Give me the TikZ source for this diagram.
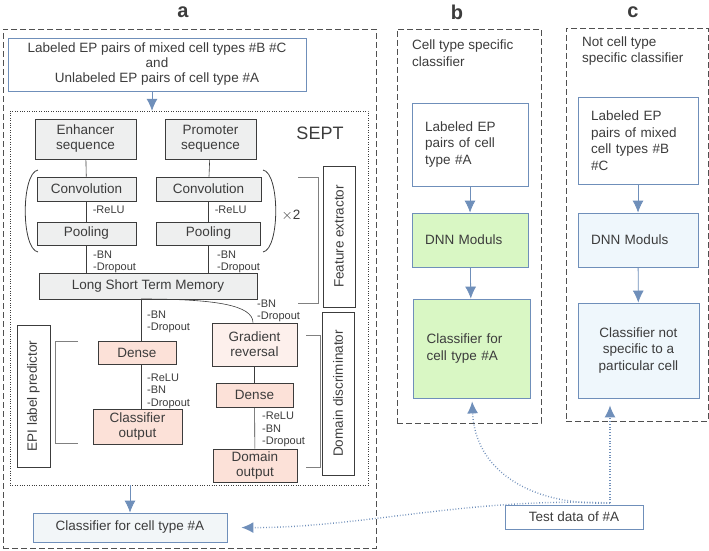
\documentclass[tikz,border=0pt]{standalone}
\usepackage{fontspec}
\setmainfont{Liberation Sans}
\usetikzlibrary{arrows.meta}
\definecolor{epblue}{RGB}{111,143,186}
\definecolor{eptext}{RGB}{60,60,60}
\definecolor{epgrey}{RGB}{238,239,239}
\definecolor{eppink}{RGB}{252,225,216}
\definecolor{eplpink}{RGB}{253,240,236}
\definecolor{epgreen}{RGB}{217,247,196}
\definecolor{eplblue}{RGB}{239,247,252}
\definecolor{epcls}{RGB}{242,246,248}
\begin{document}
\begin{tikzpicture}[x=1pt,y=-1pt,font=\fontsize{13.5}{15}\selectfont,text=eptext]

%
% Styles
%
\tikzstyle{box}    = [draw=eptext,semithick,align=center,inner sep=1pt]
\tikzstyle{gbox}   = [box,fill=epgrey]
\tikzstyle{pbox}   = [box,fill=eppink]
\tikzstyle{bbox}   = [draw=epblue,thick,align=left,inner sep=1pt]
\tikzstyle{panel}  = [draw=eptext!90,semithick,dash pattern=on 6pt off 3pt]
\tikzstyle{lbl}    = [font=\fontsize{11}{12.5}\selectfont,anchor=west,inner sep=0pt]
\tikzstyle{edge}   = [draw=eptext,semithick]
\tikzstyle{flow}   = [-{Latex[length=12pt,width=11pt]},draw=epblue,thick]
\tikzstyle{test}   = [flow,dotted,line width=1.4pt,shorten >=3pt]
\tikzstyle{brk}    = [draw=gray,thick]
\tikzstyle{side}   = [box,fill=white,rotate=90]
\tikzstyle{head}   = [font=\fontsize{20}{20}\selectfont\bfseries]
\tikzstyle{big}    = [font=\fontsize{13.5}{16.5}\selectfont]

\useasboundingbox (0,0) rectangle (709,551);

% panels
\node[panel,minimum width=373,minimum height=519] (pa) at (189.5,288.5) {};
\node[panel,minimum width=144,minimum height=394] (pb) at (469,226) {};
\node[panel,minimum width=142,minimum height=393] (pc) at (637,224.5) {};
\node[head] (la) at (183,12) {a};
\node[head] (lb) at (457,12) {b};
\node[head] (lc) at (633,12) {c};

% panel a
\node[bbox,align=center,minimum width=298,minimum height=53] (top) at (157,64.5)
  {Labeled EP pairs of mixed cell types \#B \#C\\and\\Unlabeled EP pairs of cell type \#A};
\node[draw=eptext,dotted,minimum width=358,minimum height=374] (sept) at (189,298) {};
\node[font=\fontsize{18}{18}\selectfont] (name) at (320,133) {SEPT};

\node[gbox,minimum width=101,minimum height=40] (enh) at (85.5,139) {Enhancer\\sequence};
\node[gbox,minimum width=91,minimum height=40]  (pro) at (210.5,139) {Promoter\\sequence};
\node[gbox,minimum width=99,minimum height=24]  (convL) at (86.5,189) {Convolution};
\node[gbox,minimum width=105,minimum height=24] (convR) at (208.5,189) {Convolution};
\node[gbox,minimum width=99,minimum height=23]  (poolL) at (86.5,233.5) {Pooling};
\node[gbox,minimum width=104,minimum height=23] (poolR) at (208.5,233.5) {Pooling};
\node[gbox,minimum width=218,minimum height=26] (lstm) at (148,286) {Long Short Term Memory};

\node[pbox,fill=eplpink,minimum width=85,minimum height=43] (grad) at (254.5,344.5) {Gradient\\reversal};
\node[pbox,minimum width=78,minimum height=23] (denseL) at (137,352.5) {Dense};
\node[pbox,minimum width=89,minimum height=35] (clsout) at (137.5,426.5) {Classifier\\output};
\node[pbox,minimum width=77,minimum height=24] (denseR) at (254.5,395) {Dense};
\node[pbox,minimum width=84,minimum height=33] (domout) at (255,465.5) {Domain\\output};

\node[side,minimum width=141,minimum height=32] (featx) at (339,236.5) {Feature extractor};
\node[side,minimum width=142,minimum height=33] (epi) at (33.5,396) {EPI label predictor};
\node[side,minimum width=163,minimum height=32] (domd) at (338,393.5) {Domain discriminator};

\node[bbox,fill=epcls,align=center,minimum width=194,minimum height=29] (clsA) at (130,527.5) {Classifier for cell type \#A};

\draw[edge] (enh) -- (convL);
\draw[edge] (pro) -- (convR);
\draw[edge] (convL) -- node[lbl,pos=0.4,xshift=6pt] {-ReLU} (poolL);
\draw[edge] (convR) -- node[lbl,pos=0.4,xshift=6pt] {-ReLU} (poolR);
\draw[edge] (poolL.south) -- (poolL.south |- lstm.north);
\draw[edge] (poolR.south) -- (poolR.south |- lstm.north);
\node[lbl,align=left] (bnL) at (93,262) {-BN\\-Dropout};
\node[lbl,align=left] (bnR) at (217,262) {-BN\\-Dropout};

\coordinate (split) at (141,299);
\draw[edge] (split) -- (split |- denseL.north);
\draw[edge] (split) .. controls (215,299) and (253,305) .. (grad.north -| 253,0);
\node[lbl,align=left] (bnS) at (147,322) {-BN\\-Dropout};
\node[lbl,align=left] (bnG) at (257,311) {-BN\\-Dropout};
\draw[edge] (denseL.south -| split) -- (clsout.north -| split);
\node[lbl,align=left] (reL) at (147,391) {-ReLU\\-BN\\-Dropout};
\draw[edge] (grad) -- (denseR);
\draw[edge] (denseR) -- (domout);
\node[lbl,align=left] (reR) at (262,429.5) {-ReLU\\-BN\\-Dropout};

% brackets
\draw[edge,thick] (38,170) .. controls (21,173) and (21,249) .. (38,252);
\draw[edge,thick] (263,170) .. controls (280,173) and (280,249) .. (263,252);
\node (times) at (291,215) {$\times$2};
\draw[brk] (298,177) -- (318,177) -- (318,303) -- (298,303);
\draw[brk] (78,341) -- (55,341) -- (55,443) -- (78,443);
\draw[brk] (306,335) -- (320,335) -- (320,467) -- (306,467);

\draw[flow] (top.south -| 152,0) -- (sept.north -| 152,0);
\draw[flow] (sept.south -| clsA.north) -- (clsA.north);

% panel b
\node[big,anchor=west,align=left,inner sep=0pt] (tb) at (412,53) {Cell type specific\\classifier};
\node[bbox,big,text width=90,minimum width=116,minimum height=83] (b1) at (470,144.5)
  {Labeled EP\\pairs of cell\\type \#A};
\node[bbox,fill=epgreen,text width=90,minimum width=116,minimum height=54] (b2) at (470,240) {DNN Moduls};
\node[bbox,big,fill=epgreen,text width=90,minimum width=117,minimum height=99] (b3) at (471.5,348.5)
  {Classifier for\\cell type \#A};
\draw[flow] (b1) -- (b2);
\draw[flow] (b2) -- (b3);

% panel c
\node[big,anchor=west,align=left,inner sep=0pt] (tc) at (582,51) {Not cell type\\specific classifier};
\node[bbox,big,text width=94,minimum width=120,minimum height=87] (c1) at (638,140.5)
  {Labeled EP\\pairs of mixed\\cell types \#B\\\#C};
\node[bbox,fill=eplblue,text width=94,minimum width=120,minimum height=54] (c2) at (638,240) {DNN Moduls};
\node[bbox,big,fill=eplblue,align=center,minimum width=121,minimum height=95] (c3) at (638.5,350.5)
  {Classifier not\\specific to a\\particular cell};
\draw[flow] (c1) -- (c2);
\draw[flow] (c2) -- (c3);

% test data
\node[bbox,align=center,minimum width=138,minimum height=24] (test) at (574,517) {Test data of \#A};
\coordinate (tj) at (610,503);
\draw[test,shorten >=7pt] (tj) -- (tj |- c3.south);
\draw[test] (tj) .. controls (530,506) and (475,470) .. (b3.south -| 472,0);
\draw[test,shorten >=14pt] (tj) .. controls (470,497) and (360,528) .. (clsA.east);

\end{tikzpicture}
\end{document}
